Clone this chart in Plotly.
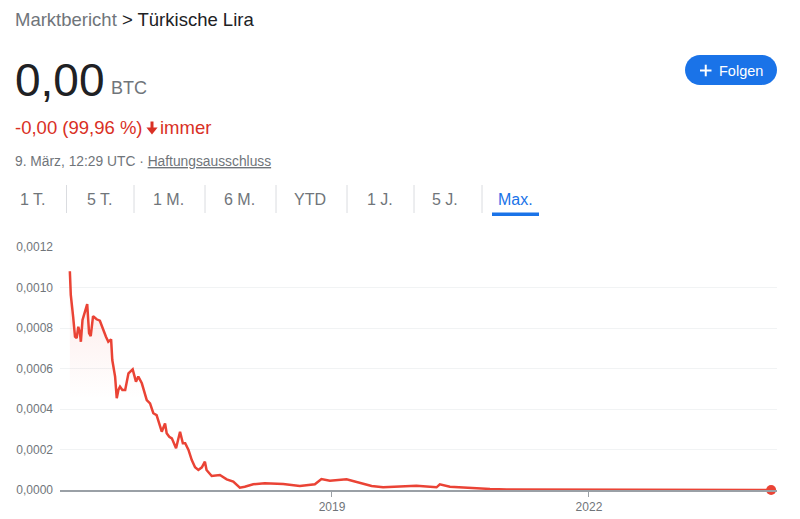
import plotly.graph_objects as go

# ---------------- data ----------------
dates = [
    "2015-12-10", "2015-12-14", "2015-12-24", "2016-01-01", "2016-01-08", "2016-01-15",
    "2016-01-22", "2016-01-26", "2016-02-02", "2016-02-16", "2016-02-22", "2016-03-01",
    "2016-03-08", "2016-03-18", "2016-04-02", "2016-04-16", "2016-04-30", "2016-05-12",
    "2016-05-22", "2016-06-03", "2016-06-08", "2016-06-20", "2016-06-27", "2016-07-04",
    "2016-07-11", "2016-07-21", "2016-08-02", "2016-08-16", "2016-09-03", "2016-09-17",
    "2016-09-27", "2016-10-12", "2016-11-02", "2016-11-16", "2016-11-30", "2016-12-14",
    "2016-12-25", "2017-01-05", "2017-01-19", "2017-01-26", "2017-02-06", "2017-02-17",
    "2017-03-07", "2017-03-17", "2017-03-24", "2017-04-05", "2017-04-15", "2017-04-29",
    "2017-05-13", "2017-05-27", "2017-06-10", "2017-06-25", "2017-07-08", "2017-07-15",
    "2017-08-06", "2017-09-10", "2017-10-09", "2017-11-06", "2017-12-04", "2017-12-25",
    "2018-01-30", "2018-03-20", "2018-06-07", "2018-08-17", "2018-10-20", "2018-11-17",
    "2018-12-23", "2019-03-04", "2019-04-30", "2019-06-19", "2019-08-07", "2019-10-17",
    "2019-12-27", "2020-03-22", "2020-04-05", "2020-05-18", "2020-08-24", "2020-11-05",
    "2021-01-16", "2021-06-01", "2022-01-01", "2022-09-01", "2023-06-01", "2024-02-17",
]
rate_btc = [
    0.001080, 0.000963, 0.000856, 0.000757, 0.000750, 0.000806,
    0.000775, 0.000732, 0.000840, 0.000897, 0.000918, 0.000775,
    0.000760, 0.000859, 0.000843, 0.000836, 0.000790, 0.000757,
    0.000732, 0.000744, 0.000642, 0.000560, 0.000453, 0.000494,
    0.000510, 0.000494, 0.000494, 0.000576, 0.000596, 0.000535,
    0.000560, 0.000527, 0.000444, 0.000428, 0.000379, 0.000370,
    0.000329, 0.000288, 0.000329, 0.000280, 0.000263, 0.000255,
    0.000206, 0.000263, 0.000288, 0.000231, 0.000231, 0.000198,
    0.000148, 0.000112, 0.0000988, 0.000112, 0.000140, 0.0000988,
    0.0000691, 0.0000741, 0.0000528, 0.0000410, 0.0000114, 0.0000163,
    0.0000281, 0.0000330, 0.0000296, 0.0000198, 0.0000281, 0.0000543,
    0.0000460, 0.0000528, 0.0000360, 0.0000198, 0.0000133, 0.0000163,
    0.0000212, 0.0000133, 0.0000281, 0.0000163, 0.0000083, 0.0000050,
    0.0000025, 0.0000020, 0.0000012, 0.0000008, 0.0000006, 0.0000004,
]
y_ticks = [0, 0.0002, 0.0004, 0.0006, 0.0008, 0.0010, 0.0012]
x_tick_vals = ["2019-01-01", "2022-01-01"]
x_tick_text = ["2019", "2022"]
tabs = ["1 T.", "5 T.", "1 M.", "6 M.", "YTD", "1 J.", "5 J.", "Max."]

# ---------------- style / layout helpers ----------------
W, H = 800, 519
L, R, T, B = 60, 777, 247, 490
FONT = "Arial, 'Liberation Sans', sans-serif"
RED_LINE = "#ea4335"
RED_TXT = "#d93025"
GRAY = "#70757a"
DARK = "#202124"
BLUE = "#1a73e8"


def px(x):
    return (x - L) / (R - L)


def py(y):
    return (B - y) / (B - T)


fig = go.Figure()

fig.add_trace(go.Scatter(
    x=dates, y=rate_btc, mode="lines",
    line=dict(color=RED_LINE, width=2.5),
    fill="tozeroy",
    fillgradient=dict(
        type="vertical", start=0.00045, stop=0.00110,
        colorscale=[[0, "rgba(234,67,53,0)"], [1, "rgba(234,67,53,0.13)"]],
    ),
    hoverinfo="skip", showlegend=False,
))
fig.add_trace(go.Scatter(
    x=[dates[-1]], y=[rate_btc[-1]], mode="markers",
    marker=dict(color=RED_LINE, size=10),
    cliponaxis=False, hoverinfo="skip", showlegend=False,
))

ann = []


def text(x, y, s, size, color, anchor="left", **kw):
    ann.append(dict(x=px(x), y=py(y), xref="paper", yref="paper", text=s,
                    showarrow=False, xanchor=anchor, yanchor="middle",
                    font=dict(family=FONT, size=size, color=color), **kw))


text(13, 20, f"<span style='color:{GRAY}'>Marktbericht</span> &gt; Türkische Lira", 18.5, DARK)
text(13, 80, "0,00", 46, DARK)
text(109, 88, "BTC", 18, GRAY)
text(13, 127, "-0,00 (99,96 %)", 18.5, RED_TXT)
text(158, 127, "immer", 18.5, RED_TXT)
text(13, 161, "9. März, 12:29 UTC · <u>Haftungsausschluss</u>", 13.8, GRAY)

tab_centers = [33, 100, 168.5, 239, 309.5, 379.5, 444.5, 515]
for t, cx in zip(tabs, tab_centers):
    text(cx, 199, t, 16, BLUE if t == "Max." else GRAY, anchor="center")

text(741, 70.5, "Folgen", 14.5, "white", anchor="center")

shapes = []
# Follow button (pill)
r = 15
k = 0.5523 * r
hw = 46 - r
pill = (f"M {-hw},{-r} L {hw},{-r} C {hw + k},{-r} {hw + r},{-k} {hw + r},0 "
        f"C {hw + r},{k} {hw + k},{r} {hw},{r} L {-hw},{r} "
        f"C {-hw - k},{r} {-hw - r},{k} {-hw - r},0 C {-hw - r},{-k} {-hw - k},{-r} {-hw},{-r} Z")
shapes.append(dict(type="path", xref="paper", yref="paper", xsizemode="pixel", ysizemode="pixel",
                   xanchor=px(731), yanchor=py(70), path=pill,
                   fillcolor=BLUE, line=dict(width=0), layer="below"))
# plus sign
shapes.append(dict(type="line", xref="paper", yref="paper", x0=px(700), x1=px(711.5),
                   y0=py(70.5), y1=py(70.5), line=dict(color="white", width=2)))
shapes.append(dict(type="line", xref="paper", yref="paper", x0=px(705.75), x1=px(705.75),
                   y0=py(64.7), y1=py(76.3), line=dict(color="white", width=2)))
# down arrow (bold)
ax0 = 152
shapes.append(dict(type="line", xref="paper", yref="paper", x0=px(ax0), x1=px(ax0),
                   y0=py(121.5), y1=py(129), line=dict(color=RED_TXT, width=3)))
arrow_head = (f"M {px(ax0 - 5.6)},{py(127.6)} L {px(ax0 + 5.6)},{py(127.6)} "
              f"L {px(ax0)},{py(134.5)} Z")
shapes.append(dict(type="path", xref="paper", yref="paper", path=arrow_head,
                   fillcolor=RED_TXT, line=dict(width=0)))
# tab separators
for sx in [66.5, 134, 205, 276, 347, 414, 482]:
    shapes.append(dict(type="line", xref="paper", yref="paper", x0=px(sx), x1=px(sx),
                       y0=py(185), y1=py(213), line=dict(color="#dadce0", width=1)))
# active tab underline
shapes.append(dict(type="rect", xref="paper", yref="paper", x0=px(492), x1=px(539),
                   y0=py(212.5), y1=py(216), fillcolor=BLUE, line=dict(width=0)))

fig.update_layout(
    width=W, height=H,
    margin=dict(l=L, r=W - R, t=T, b=H - B, pad=0, autoexpand=False),
    paper_bgcolor="white", plot_bgcolor="white",
    separators=",.",
    font=dict(family=FONT, color=GRAY, size=12),
    annotations=ann, shapes=shapes,
    xaxis=dict(
        type="date", range=["2015-10-29", "2024-03-13"],
        tickvals=x_tick_vals, ticktext=x_tick_text,
        ticks="outside", ticklen=5, tickcolor="#9aa0a6", tickwidth=1,
        showgrid=False, zeroline=False,
        showline=True, linecolor="#9aa0a6", linewidth=1.5,
        tickfont=dict(size=12, color=GRAY),
        automargin=False, fixedrange=True,
    ),
    yaxis=dict(
        range=[0, 0.0012], tickvals=y_ticks, tickformat=".4f",
        showgrid=True, gridcolor="#f1f3f4", gridwidth=1,
        zeroline=False, showline=False, ticks="",
        ticklabelstandoff=6,
        tickfont=dict(size=12, color=GRAY),
        automargin=False, fixedrange=True,
    ),
)

fig.write_html("out.html", config={"displayModeBar": False})
